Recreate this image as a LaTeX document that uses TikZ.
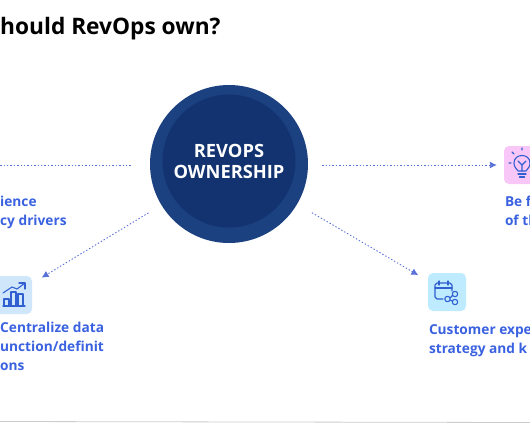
\documentclass[tikz,border=0pt]{standalone}
\usepackage{fontspec}
\setmainfont{Open Sans}
\usepackage{tikz}
\usetikzlibrary{arrows.meta,positioning}
\definecolor{hubouter}{HTML}{1C4180}
\definecolor{hubinner}{HTML}{123370}
\definecolor{labelblue}{HTML}{3A62E0}
\definecolor{flowblue}{HTML}{5A72D8}
\definecolor{iconblue}{HTML}{2F5FD0}
\definecolor{tilesky}{HTML}{CFE6FB}
\definecolor{tilepink}{HTML}{F9C6F8}
\definecolor{tilecyan}{HTML}{BEEBFF}

\begin{document}
\begin{tikzpicture}[
  x=1pt, y=-1pt,
  node distance=9pt,
  tile/.style={draw=none, rounded corners=5pt, minimum width=38pt, minimum height=38pt, inner sep=0pt},
  lbl/.style={font=\fontsize{13.7}{19}\selectfont\bfseries, text=labelblue, align=left, inner sep=0pt},
  flow/.style={draw=flowblue, line width=0.9pt, dash pattern=on 1.4pt off 2pt, -{Latex[length=7pt,width=7pt]}},
  icon/.style={draw=iconblue, line width=1.1pt, line cap=round, line join=round}
]
\useasboundingbox (0,0) rectangle (530,442);
\clip (0,0) rectangle (530,442);

\node[anchor=west, inner sep=0pt, font=\fontsize{22.7}{26}\selectfont\bfseries] (title) at (0,29) {hould RevOps own?};

\node[circle, fill=hubouter, minimum size=158pt, inner sep=0pt] (hub) at (229,164) {};
\node[circle, fill=hubinner, minimum size=133pt, inner sep=0pt, align=center, text=white,
  font=\fontsize{18.3}{21}\selectfont\bfseries] (hubtext) at (229,161) {REVOPS\\OWNERSHIP};

\node[tile, fill=tilesky] (tilechart) at (13,295) {};
\node[tile, fill=tilepink] (tileidea) at (523,165) {};
\node[tile, fill=tilecyan] (tilecal) at (447,292) {};
\coordinate (leftend) at (0,165);

\node[lbl, anchor=north west] (lblspeed) at (0,196) {ience\\cy drivers};
\node[lbl, below=8pt of tilechart.south, anchor=north west, xshift=-13pt] (lblchart) {Centralize data\\unction/definit\\ons};
\node[lbl, below=12pt of tileidea.south west, anchor=north west, xshift=1pt] (lblidea) {Be f\\of th};
\node[lbl, below=13pt of tilecal.south west, anchor=north west, xshift=1pt] (lblcal) {Customer expe\\strategy and k};

\draw[flow, -, shorten <=19pt] (hub.west |- leftend) -- (leftend);
\draw[flow, shorten <=14pt, shorten >=7pt] (hub.east |- tileidea) -- (tileidea.west);
\draw[flow, shorten <=15pt, shorten >=11pt] (hub) -- (tilechart);
\draw[flow, shorten <=17pt, shorten >=11pt] (hub) -- (tilecal);

% chart icon
\draw[icon] (3,306) -- (25,306);
\draw[icon] (4,306) -- (4,299) -- (9,299) -- (9,306);
\draw[icon] (11,306) -- (11,292) -- (16,292) -- (16,306);
\draw[icon] (18,306) -- (18,294) -- (23,294) -- (23,306);
\draw[icon] (3,293) -- (12,287) -- (17,289) -- (25,283);
\draw[icon] (19,283) -- (25,283) -- (25,289);

% bulb icon
\draw[icon] (518,171) .. controls (516,168) and (514,167) .. (514,163)
  .. controls (514,153) and (530,153) .. (530,163)
  .. controls (530,167) and (528,168) .. (526,171) -- cycle;
\draw[icon] (518,174) -- (526,174) (519.5,177) -- (524.5,177);
\draw[icon] (522,171) -- (522,165) (518,161) -- (522,165) -- (526,161);
\draw[icon] (522,148) -- (522,150) (512,152) -- (514,154) (509,163) -- (511,163);

% calendar icon
\draw[icon] (443,299) -- (437,299) -- (435,297) -- (435,285) -- (437,283) -- (450,283) -- (452,285) -- (452,291);
\draw[icon] (435,288) -- (452,288);
\draw[icon] (439,281) -- (439,285) (448,281) -- (448,285);
\draw[icon] (447.5,299) circle (2.7pt) (455,294) circle (2.7pt) (455,302) circle (2.7pt);
\draw[icon] (450,298) -- (452.6,295.4) (450,300) -- (452.6,301.2);

% footer rule
\draw[black!20, line width=0.8pt] (0,421.5) -- (530,422.5);
\end{tikzpicture}
\end{document}
